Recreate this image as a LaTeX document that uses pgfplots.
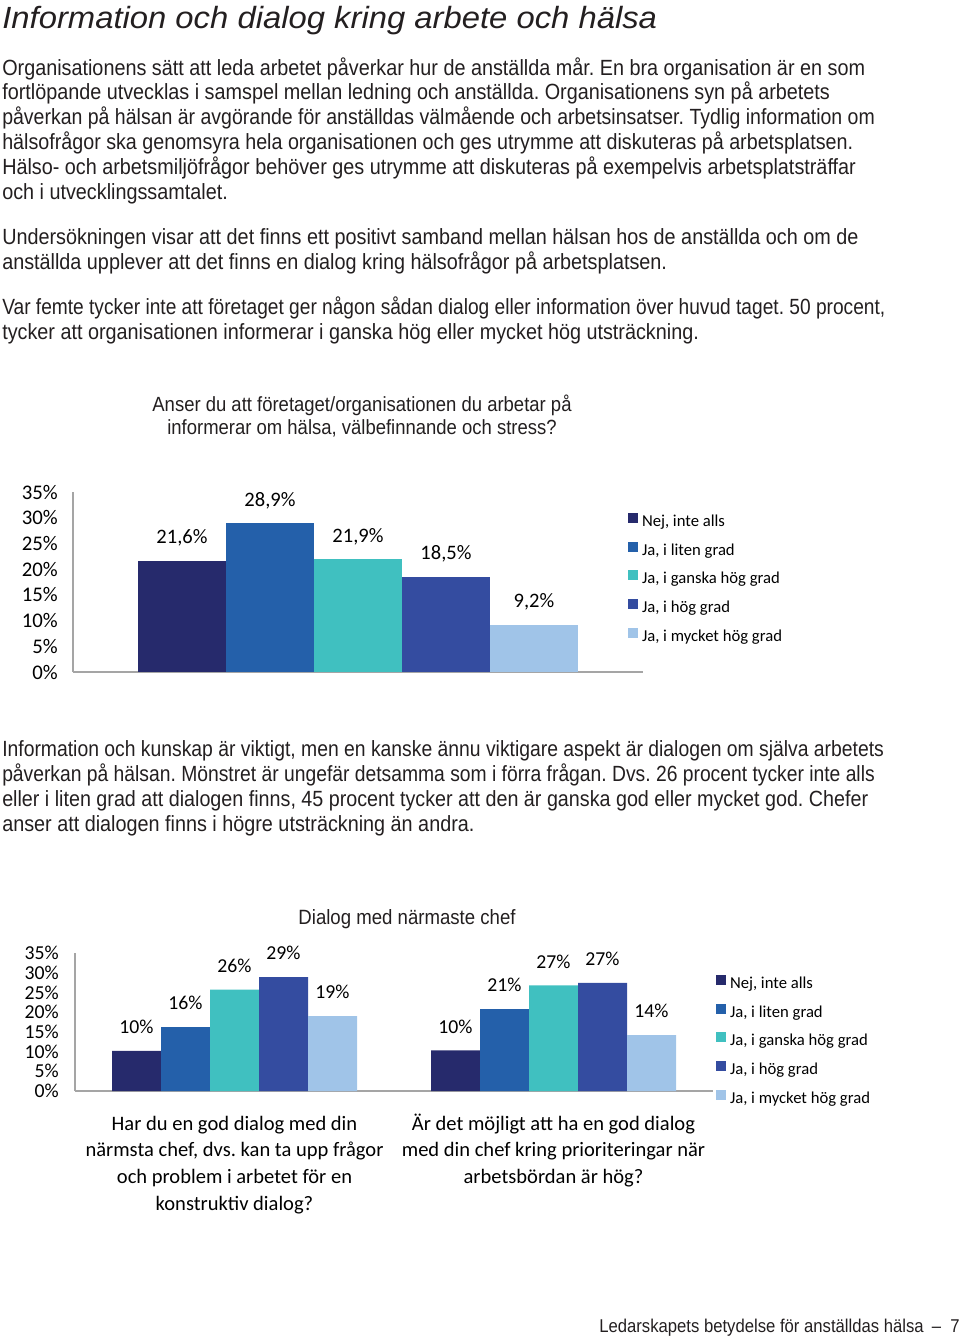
\documentclass[border=0pt]{standalone}
\usepackage{graphicx}
\usepackage{pgfplots}
\pgfplotsset{compat=1.18}
\usepackage{fontspec}
\setmainfont{Liberation Sans}
\newfontfamily\bodyfont{Liberation Sans}[FakeStretch=0.9]
\newfontfamily\titlefont{Liberation Sans}[FakeStretch=1.07]
\newfontfamily\calfont{Carlito}
\definecolor{cA}{RGB}{38,42,108}
\definecolor{cB}{RGB}{36,96,170}
\definecolor{cC}{RGB}{64,192,192}
\definecolor{cD}{RGB}{52,76,160}
\definecolor{cE}{RGB}{160,196,232}
\definecolor{axgray}{RGB}{165,165,165}
\definecolor{txt}{RGB}{35,31,32}
\pgfplotsset{
  mybars/.style={
    scale only axis,
    ybar=0pt,
    ymin=0, ymax=35,
    ytick={0,5,...,35},
    yticklabel={\pgfmathprintnumber{\tick}\%},
    /pgf/number format/assume math mode=true,
    axis x line*=bottom, axis y line*=left,
    axis line style={draw=axgray, line width=1.8pt, -},
    major tick length=0pt,
    tick style={draw=none},
    yticklabel style={anchor=east, inner sep=0pt},
    legend image code/.code={\fill[##1] (0pt,-0.5pt) rectangle (7.5pt,7pt);},
    legend cell align=left,
    legend style={draw=none, fill=none, inner sep=0pt, outer sep=0pt,
      font=\calfont\fontsize{12.5}{14}\selectfont, row sep=8.5pt, column sep=3pt,
      nodes={inner sep=0pt, text height=9pt, text depth=3pt},
      anchor=north west},
    every node near coord/.append style={anchor=base, yshift=13pt, inner sep=0pt, text=black},
  }
}
\begin{document}
\frenchspacing
\begin{tikzpicture}[x=0.75pt,y=-0.75pt,
  body/.style={anchor=base west, inner sep=0pt, font=\bodyfont\fontsize{16.5}{19}\selectfont, text=txt}]
\path[use as bounding box] (0,0) rectangle (960,1337);
\node[anchor=base west, inner sep=0pt, font=\titlefont\itshape\fontsize{23}{26}\selectfont, text=txt] at (2,29) {Information och dialog kring arbete och hälsa};
\node[body] at (2,75.5) {Organisationens sätt att leda arbetet påverkar hur de anställda mår. En bra organisation är en som};
\node[body] at (2,99.5) {fortlöpande utvecklas i samspel mellan ledning och anställda. Organisationens syn på arbetets};
\node[body] at (2,124.5) {\scalebox{0.985}[1]{påverkan på hälsan är avgörande för anställdas välmående och arbetsinsatser. Tydlig information om}};
\node[body] at (2,149.5) {\scalebox{0.995}[1]{hälsofrågor ska genomsyra hela organisationen och ges utrymme att diskuteras på arbetsplatsen.}};
\node[body] at (2,174.5) {Hälso- och arbetsmiljöfrågor behöver ges utrymme att diskuteras på exempelvis arbetsplatsträffar};
\node[body] at (2,199.5) {och i utvecklingssamtalet.};
\node[body] at (2,244.5) {Undersökningen visar att det finns ett positivt samband mellan hälsan hos de anställda och om de};
\node[body] at (2,269.5) {anställda upplever att det finns en dialog kring hälsofrågor på arbetsplatsen.};
\node[body] at (2,314.5) {\scalebox{0.967}[1]{Var femte tycker inte att företaget ger någon sådan dialog eller information över huvud taget. 50 procent,}};
\node[body] at (2,339.5) {tycker att organisationen informerar i ganska hög eller mycket hög utsträckning.};
\node[body] at (2,756.5) {\scalebox{0.977}[1]{Information och kunskap är viktigt, men en kanske ännu viktigare aspekt är dialogen om själva arbetets}};
\node[body] at (2,781.5) {\scalebox{0.974}[1]{påverkan på hälsan. Mönstret är ungefär detsamma som i förra frågan. Dvs. 26 procent tycker inte alls}};
\node[body] at (2,806.5) {\scalebox{0.996}[1]{eller i liten grad att dialogen finns, 45 procent tycker att den är ganska god eller mycket god. Chefer}};
\node[body] at (2,831.5) {anser att dialogen finns i högre utsträckning än andra.};
% chart titles
\node[anchor=base, inner sep=0pt, font=\bodyfont\fontsize{15.4}{18}\selectfont, text=txt] at (362,411) {Anser du att företaget/organisationen du arbetar på};
\node[anchor=base, inner sep=0pt, font=\bodyfont\fontsize{15.4}{18}\selectfont, text=txt] at (362,434) {informerar om hälsa, välbefinnande och stress?};
\node[anchor=base, inner sep=0pt, font=\bodyfont\fontsize{15.5}{18}\selectfont, text=txt] at (407,924) {Dialog med närmaste chef};
% footer
\node[body, font=\bodyfont\fontsize{13.9}{16}\selectfont] at (599,1332) {Ledarskapets betydelse för anställdas hälsa\hspace{6pt}–\hspace{7pt}7};

% chart 1
\begin{axis}[mybars, at={(54.75pt,-504pt)}, anchor=south west,
  width=427.5pt, height=135pt, xmin=-1, xmax=1, xtick=\empty,
  bar width=66pt,
  yticklabel style={xshift=-11.25pt, font=\calfont\fontsize{15.6}{18}\selectfont},
  legend style={at={(0.9737,0.8833)}},
  nodes near coords={\pgfmathprintnumber[fixed,fixed zerofill,precision=1,use comma]{\pgfplotspointmeta}\%},
  every node near coord/.append style={font=\calfont\fontsize{15.4}{18}\selectfont},
]
\addplot[fill=cA, draw=none] coordinates {(0,21.6)};
\addplot[fill=cB, draw=none] coordinates {(0,28.9)};
\addplot[fill=cC, draw=none] coordinates {(0,21.9)};
\addplot[fill=cD, draw=none] coordinates {(0,18.5)};
\addplot[fill=cE, draw=none] coordinates {(0,9.2)};
\legend{{Nej, inte alls}, {Ja, i liten grad}, {Ja, i ganska hög grad}, {Ja, i hög grad}, {Ja, i mycket hög grad}}
\end{axis}

% chart 2
\begin{axis}[mybars, at={(56.25pt,-818.25pt)}, anchor=south west,
  width=478.5pt, height=103.5pt, xmin=-0.5, xmax=1.5,
  bar width=36.75pt,
  xtick={0,1},
  xticklabels={{\vphantom{Ä}Har du en god dialog med din\\närmsta chef, dvs. kan ta upp frågor\\och problem i arbetet för en\\konstruktiv dialog?},{Är det möjligt att ha en god dialog\\med din chef kring prioriteringar när\\arbetsbördan är hög?}},
  xticklabel style={align=center, anchor=north, inner sep=0pt, yshift=-16.8pt, font=\calfont\fontsize{15.4}{20}\selectfont},
  yticklabel style={xshift=-12pt, font=\calfont\fontsize{14.8}{17}\selectfont},
  legend style={at={(1.0047,0.8406)}},
  nodes near coords={\pgfmathprintnumber[fixed,precision=0]{\pgfplotspointmeta}\%},
  every node near coord/.append style={font=\calfont\fontsize{14.8}{17}\selectfont},
]
\addplot[fill=cA, draw=none] coordinates {(0,10.2) (1,10.3)};
\addplot[fill=cB, draw=none] coordinates {(0,16.2) (1,20.8)};
\addplot[fill=cC, draw=none] coordinates {(0,25.7) (1,26.8)};
\addplot[fill=cD, draw=none] coordinates {(0,28.9) (1,27.4)};
\addplot[fill=cE, draw=none] coordinates {(0,19.0) (1,14.2)};
\legend{{Nej, inte alls}, {Ja, i liten grad}, {Ja, i ganska hög grad}, {Ja, i hög grad}, {Ja, i mycket hög grad}}
\end{axis}
\end{tikzpicture}
\end{document}
